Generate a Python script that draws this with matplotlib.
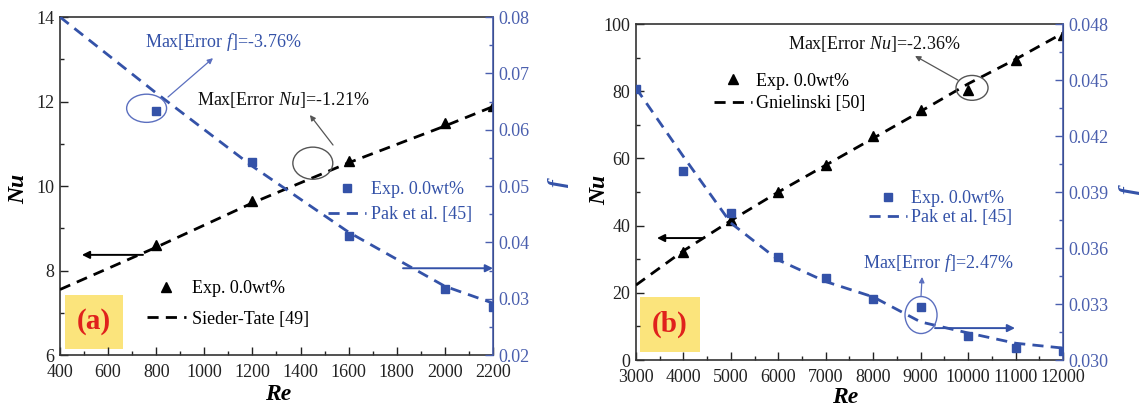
import matplotlib
matplotlib.use("Agg")
import matplotlib.pyplot as plt
from matplotlib.patches import Ellipse, Rectangle
from matplotlib.lines import Line2D
from matplotlib.ticker import MultipleLocator, FormatStrFormatter

plt.rcParams['font.family'] = ['Liberation Serif', 'DejaVu Serif']
plt.rcParams['mathtext.fontset'] = 'custom'
plt.rcParams['mathtext.it'] = 'Liberation Serif:italic'
plt.rcParams['mathtext.rm'] = 'Liberation Serif'

# ---- panel (a): laminar range ----
re_a_line = [400, 800, 1200, 1600, 2000, 2200]
nu_a_sieder = [7.55, 8.55, 9.6, 10.55, 11.42, 11.88]
f_a_pak = [0.080, 0.0665, 0.0535, 0.0418, 0.0322, 0.0292]
re_a_exp = [800, 1200, 1600, 2000, 2200]
nu_a_exp = [8.6, 9.65, 10.6, 11.5, 11.9]
f_a_exp = [0.0633, 0.0543, 0.0411, 0.0317, 0.0285]

# ---- panel (b): turbulent range ----
re_b_line = [3000, 4000, 5000, 6000, 7000, 8000, 9000, 10000, 11000, 12000]
nu_b_gniel = [22.3, 32.5, 41.5, 50.0, 58.0, 66.0, 74.0, 82.2, 89.5, 97.3]
f_b_pak = [0.04457, 0.0409, 0.03734, 0.03536, 0.0342, 0.03338, 0.03204, 0.03145, 0.0309, 0.03064]
re_b_exp = [4000, 5000, 6000, 7000, 8000, 9000, 10000, 11000, 12000]
nu_b_exp = [32.1, 41.7, 50.0, 58.0, 66.8, 74.4, 80.4, 89.3, 96.7]
re_b_fexp = [3000, 4000, 5000, 6000, 7000, 8000, 9000, 10000, 11000, 12000]
f_b_exp = [0.0445, 0.0401, 0.0379, 0.0355, 0.0344, 0.03327, 0.03284, 0.03129, 0.03064, 0.03048]

BLUE = '#3452a8'
BLUE_AX = '#4a5fae'
DASH = (0, (4, 2.6))
FS = 13
SERIF = ['Liberation Serif', 'DejaVu Serif']

fig = plt.figure(figsize=(11.43, 4.08), dpi=100)
ax_a = fig.add_axes([0.0525, 0.1299, 0.3788, 0.8284])
ax_b = fig.add_axes([0.5564, 0.1176, 0.3736, 0.8235])


def style_axes(ax, ax2):
    ax.tick_params(which='both', direction='in', labelsize=FS, top=False, right=False,
                   colors='#222222')
    ax.tick_params(axis='x', pad=6.5)
    ax.tick_params(axis='y', pad=4)
    ax.tick_params(which='major', length=6, width=1)
    ax.tick_params(which='minor', length=3, width=1)
    ax2.tick_params(which='both', direction='in', labelsize=FS, colors=BLUE_AX, pad=4)
    ax2.tick_params(which='major', length=6, width=1)
    ax2.tick_params(which='minor', length=3, width=1)
    for s in ['left', 'bottom', 'top']:
        ax.spines[s].set_color('#333333')
        ax.spines[s].set_linewidth(1.2)
    ax2.spines['right'].set_color(BLUE_AX)
    ax2.spines['right'].set_linewidth(1.2)
    for s in ['left', 'bottom', 'top']:
        ax2.spines[s].set_visible(False)


def axis_labels(ax, ax2, nu_xy, re_xy, f_xy):
    ax.set_ylabel('Nu', fontsize=17, fontweight='bold', fontstyle='italic', family=SERIF)
    ax.yaxis.set_label_coords(*nu_xy)
    ax.set_xlabel('Re', fontsize=17, fontweight='bold', fontstyle='italic', family=SERIF)
    ax.xaxis.set_label_coords(*re_xy)
    ax2.set_ylabel('f', fontsize=17, fontweight='bold', fontstyle='italic', color=BLUE,
                   rotation=90, family=SERIF)
    ax2.yaxis.set_label_coords(*f_xy)


def tag(ax, box, text):
    x0, y0, x1, y1 = box
    ax.add_patch(Rectangle((x0, y0), x1 - x0, y1 - y0, transform=ax.transAxes,
                           facecolor='#fbe47c', edgecolor='none', zorder=1))
    ax.text((x0 + x1) / 2, (y0 + y1) / 2, text, transform=ax.transAxes, ha='center',
            va='center', fontsize=21, fontweight='bold', color='#e0211c', zorder=2)


def arrow(ax, start, end, color, lw=0.9, style='-|>', ms=10):
    ax.annotate('', xy=end, xytext=start, xycoords='data', textcoords='data',
                arrowprops=dict(arrowstyle=style, color=color, lw=lw,
                                mutation_scale=ms, shrinkA=0, shrinkB=0), zorder=6)


# ================= panel (a) =================
ax2_a = ax_a.twinx()
ax_a.set_xlim(400, 2200)
ax_a.set_ylim(6, 14)
ax2_a.set_ylim(0.02, 0.08)
ax_a.xaxis.set_major_locator(MultipleLocator(200))
ax_a.xaxis.set_minor_locator(MultipleLocator(100))
ax_a.yaxis.set_major_locator(MultipleLocator(2))
ax_a.yaxis.set_minor_locator(MultipleLocator(1))
ax2_a.yaxis.set_major_locator(MultipleLocator(0.01))
ax2_a.yaxis.set_minor_locator(MultipleLocator(0.005))
ax2_a.yaxis.set_major_formatter(FormatStrFormatter('%.2f'))
style_axes(ax_a, ax2_a)

ax_a.plot(re_a_line, nu_a_sieder, color='black', lw=2, linestyle=DASH, zorder=3)
ax_a.plot(re_a_exp, nu_a_exp, linestyle='none', marker='^', color='black', ms=6.5, zorder=4)
ax2_a.plot(re_a_line, f_a_pak, color=BLUE, lw=2, linestyle=DASH, zorder=3)
ax2_a.plot(re_a_exp, f_a_exp, linestyle='none', marker='s', color=BLUE, ms=5.5, zorder=4)

tag(ax_a, (0.0115, 0.018, 0.1455, 0.178), '(a)')

leg_a1 = ax_a.legend(
    [Line2D([], [], color='black', marker='^', linestyle='none', ms=6.5),
     Line2D([], [], color='black', lw=2, linestyle=DASH)],
    ['Exp. 0.0wt%', 'Sieder-Tate [49]'],
    loc='upper left', bbox_to_anchor=(0.2, 0.222), frameon=False, fontsize=FS,
    borderpad=0, handlelength=2.2, handletextpad=0.3, labelspacing=0.75,
    borderaxespad=0)
leg_a2 = ax2_a.legend(
    [Line2D([], [], color=BLUE, marker='s', linestyle='none', ms=5.5),
     Line2D([], [], color=BLUE, lw=2, linestyle=DASH)],
    ['Exp. 0.0wt%', 'Pak et al. [45]'],
    loc='upper left', bbox_to_anchor=(0.62, 0.515), frameon=False, fontsize=FS,
    borderpad=0, handlelength=2.1, handletextpad=0.25, labelspacing=0.45,
    borderaxespad=0, labelcolor=BLUE)

ax2_a.add_patch(Ellipse((760, 0.0638), 166, 0.0050, fill=False, edgecolor='#5b6fbf',
                        lw=1.0, zorder=5))
arrow(ax2_a, (849, 0.0658), (1036, 0.0727), '#5b6fbf', lw=0.9, style='-|>', ms=8)
ax_a.text(0.196, 0.926, 'Max[Error $f$]=-3.76%', transform=ax_a.transAxes, fontsize=FS,
          color=BLUE, va='center', ha='left')

ax_a.add_patch(Ellipse((1451, 10.54), 166, 0.76, fill=False, edgecolor='#555555',
                       lw=1.0, zorder=5))
arrow(ax_a, (1535, 10.97), (1439, 11.68), '#555555', lw=0.9, style='-|>', ms=8)
ax_a.text(0.316, 0.754, 'Max[Error $Nu$]=-1.21%', transform=ax_a.transAxes, fontsize=FS,
          color='#111111', va='center', ha='left')

arrow(ax_a, (745, 8.37), (491, 8.37), 'black', lw=1.4, style='-|>', ms=11)
arrow(ax2_a, (1826, 0.0354), (2200, 0.0354), BLUE, lw=1.4, style='-|>', ms=11)

axis_labels(ax_a, ax2_a, (-0.072, 0.49), (0.503, -0.085), (1.128, 0.509))

# ================= panel (b) =================
ax2_b = ax_b.twinx()
ax_b.set_xlim(3000, 12000)
ax_b.set_ylim(0, 100)
ax2_b.set_ylim(0.030, 0.048)
ax_b.xaxis.set_major_locator(MultipleLocator(1000))
ax_b.xaxis.set_minor_locator(MultipleLocator(500))
ax_b.yaxis.set_major_locator(MultipleLocator(20))
ax_b.yaxis.set_minor_locator(MultipleLocator(10))
ax2_b.yaxis.set_major_locator(MultipleLocator(0.003))
ax2_b.yaxis.set_minor_locator(MultipleLocator(0.0015))
ax2_b.yaxis.set_major_formatter(FormatStrFormatter('%.3f'))
style_axes(ax_b, ax2_b)

ax_b.plot(re_b_line, nu_b_gniel, color='black', lw=2, linestyle=DASH, zorder=3)
ax_b.plot(re_b_exp, nu_b_exp, linestyle='none', marker='^', color='black', ms=6.5, zorder=4)
ax2_b.plot(re_b_line, f_b_pak, color=BLUE, lw=2, linestyle=DASH, zorder=3)
ax2_b.plot(re_b_fexp, f_b_exp, linestyle='none', marker='s', color=BLUE, ms=5.5, zorder=4)

tag(ax_b, (0.0094, 0.024, 0.150, 0.1875), '(b)')

leg_b1 = ax_b.legend(
    [Line2D([], [], color='black', marker='^', linestyle='none', ms=6.5),
     Line2D([], [], color='black', lw=2, linestyle=DASH)],
    ['Exp. 0.0wt%', 'Gnielinski [50]'],
    loc='upper left', bbox_to_anchor=(0.182, 0.855), frameon=False, fontsize=FS,
    borderpad=0, handlelength=2.1, handletextpad=0.25, labelspacing=0.3,
    borderaxespad=0)
leg_b2 = ax2_b.legend(
    [Line2D([], [], color=BLUE, marker='s', linestyle='none', ms=5.5),
     Line2D([], [], color=BLUE, lw=2, linestyle=DASH)],
    ['Exp. 0.0wt%', 'Pak et al. [45]'],
    loc='upper left', bbox_to_anchor=(0.545, 0.505), frameon=False, fontsize=FS,
    borderpad=0, handlelength=2.1, handletextpad=0.25, labelspacing=0.1,
    borderaxespad=0, labelcolor=BLUE)

ax_b.add_patch(Ellipse((10083, 81.0), 675, 7.4, fill=False, edgecolor='#555555',
                       lw=1.0, zorder=5))
arrow(ax_b, (9788, 83.3), (8882, 90.5), '#555555', lw=0.9, style='-|>', ms=8)
ax_b.text(0.356, 0.940, 'Max[Error $Nu$]=-2.36%', transform=ax_b.transAxes, fontsize=FS,
          color='#111111', va='center', ha='left')

ax2_b.add_patch(Ellipse((9008, 0.03241), 675, 0.00198, fill=False, edgecolor='#5b6fbf',
                        lw=1.0, zorder=5))
arrow(ax2_b, (9008, 0.03343), (9030, 0.03445), '#5b6fbf', lw=0.9, style='-|>', ms=8)
ax_b.text(0.883, 0.289, 'Max[Error $f$]=2.47%', transform=ax_b.transAxes, fontsize=FS,
          color=BLUE, va='center', ha='right')

arrow(ax_b, (4391, 36.3), (3443, 36.3), 'black', lw=1.4, style='-|>', ms=11)
arrow(ax2_b, (9303, 0.03171), (10989, 0.03171), BLUE, lw=1.4, style='-|>', ms=11)

axis_labels(ax_b, ax2_b, (-0.06, 0.506), (0.49, -0.08), (1.132, 0.506))

fig.savefig('out.png', dpi=100)
